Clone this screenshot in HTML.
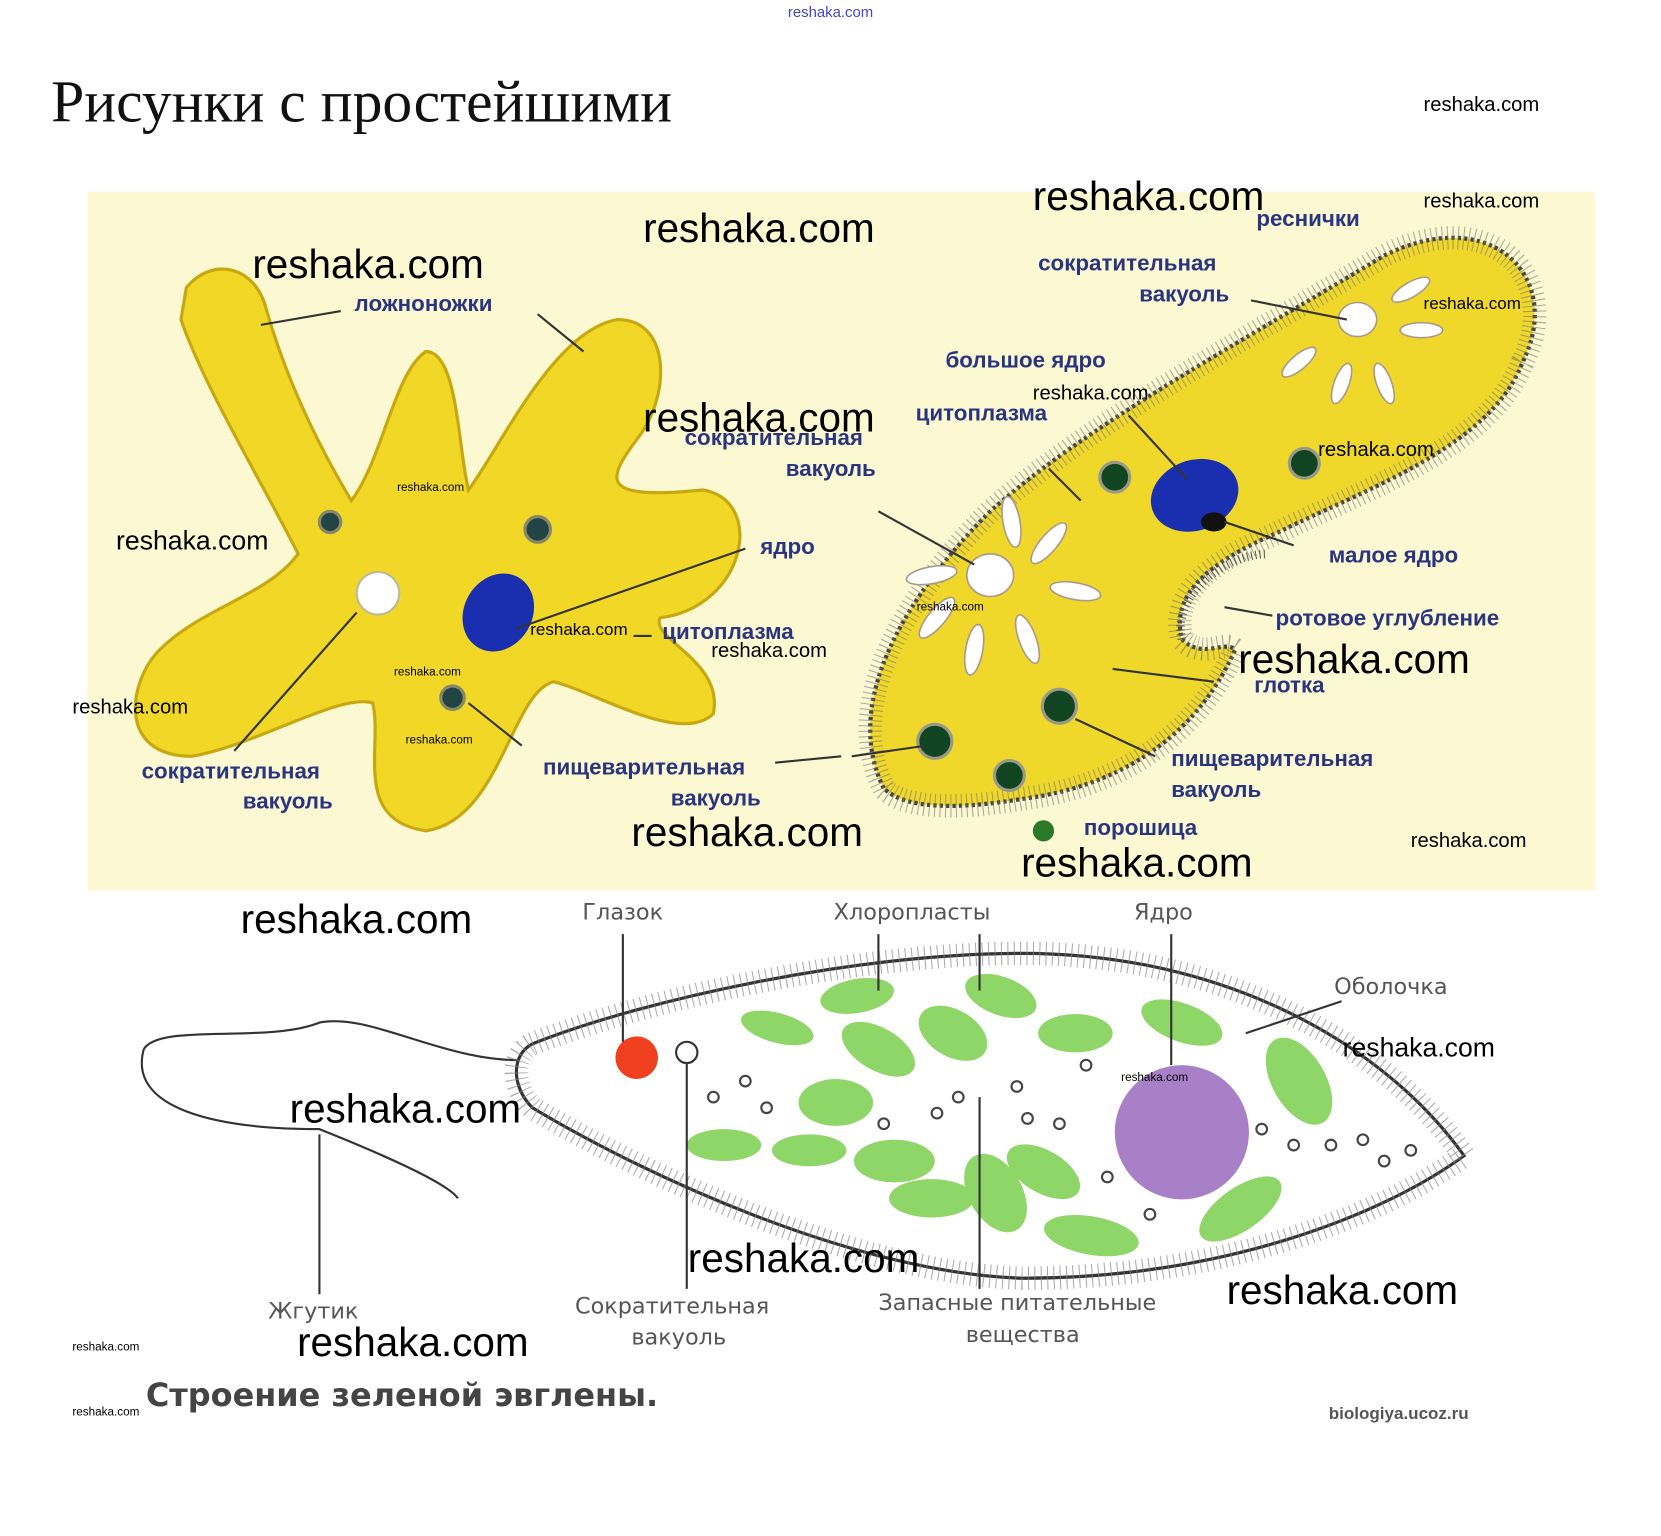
<!DOCTYPE html>
<html><head><meta charset="utf-8"><style>
html,body{margin:0;padding:0;background:#fff;}
svg{display:block;}
.w{font-family:"Liberation Sans",sans-serif;fill:#000;}
.lb{font-family:"Liberation Sans","DejaVu Sans",sans-serif;font-weight:bold;fill:#2a3580;font-size:21px;}
.eg{font-family:"DejaVu Sans","Liberation Sans",sans-serif;fill:#555;font-size:21px;}
</style></head><body>
<svg width="1661" height="1536" viewBox="0 0 1560 1442" preserveAspectRatio="none" xmlns="http://www.w3.org/2000/svg">
<rect width="1560" height="1442" fill="#fff"/>
<text x="740" y="16" font-size="14" fill="#4444cc" font-family="Liberation Sans">reshaka.com</text>
<text x="48" y="114" font-size="56" font-family="Liberation Serif" fill="#111">Рисунки с простейшими</text>

<rect x="82" y="180" width="1416" height="656" fill="#fbf8d2"/>

<path d="M175,270 C200,240 240,250 250,290 C270,360 300,420 330,470 C360,430 370,350 400,330 C430,330 430,420 440,460 C470,420 520,310 580,300 C630,300 630,370 600,410 C570,450 560,470 660,460 C720,470 700,570 620,580 C610,600 680,620 670,670 C640,700 560,650 520,640 C480,650 470,770 400,780 C330,770 360,700 350,660 C320,650 240,700 180,710 C110,710 120,640 150,610 C190,570 250,560 280,520 C250,460 190,360 170,300 Z" fill="#f2d826" stroke="#c8a810" stroke-width="3"/>
<circle cx="310" cy="490" r="10" fill="#244" stroke="#886" stroke-width="3"/>
<circle cx="505" cy="497" r="12" fill="#244" stroke="#886" stroke-width="3"/>
<circle cx="425" cy="655" r="11" fill="#244" stroke="#886" stroke-width="3"/>
<circle cx="355" cy="557" r="20" fill="#fff" stroke="#bb9" stroke-width="2"/>
<ellipse cx="468" cy="575" rx="32" ry="38" transform="rotate(30 468 575)" fill="#1a2fb0"/>
<g stroke="#333" stroke-width="2" fill="none">
<line x1="245" y1="305" x2="320" y2="292"/><line x1="505" y1="295" x2="548" y2="330"/>
<line x1="485" y1="590" x2="700" y2="515"/><line x1="595" y1="597" x2="612" y2="597"/>
<line x1="440" y1="660" x2="490" y2="700"/><line x1="335" y1="575" x2="220" y2="705"/>
<line x1="728" y1="716" x2="790" y2="710"/></g>
<text class="lb" x="333" y="292">ложноножки</text>
<text class="lb" x="714" y="520">ядро</text>
<text class="lb" x="622" y="600">цитоплазма</text>
<text class="lb" x="133" y="731">сократительная</text>
<text class="lb" x="228" y="759">вакуоль</text>
<text class="lb" x="510" y="727">пищеварительная</text>
<text class="lb" x="630" y="756">вакуоль</text>
<text class="lb" x="643" y="418">сократительная</text>
<text class="lb" x="738" y="447">вакуоль</text>

<path d="M830,740 C790,660 850,560 930,480 C1020,400 1150,330 1300,240 C1400,190 1470,260 1430,340 C1400,420 1280,460 1200,500 C1130,530 1100,560 1110,600 C1130,620 1150,600 1160,610 C1120,700 1040,740 960,750 C900,760 850,760 830,740 Z" fill="#f0d82a" stroke="#444" stroke-width="4" stroke-dasharray="3,3"/>
<path d="M830,740 C790,660 850,560 930,480 C1020,400 1150,330 1300,240 C1400,190 1470,260 1430,340 C1400,420 1280,460 1200,500 C1130,530 1100,560 1110,600 C1130,620 1150,600 1160,610 C1120,700 1040,740 960,750 C900,760 850,760 830,740 Z" fill="none" stroke="#777" stroke-width="22" stroke-dasharray="1,4" opacity="0.6"/>
<g fill="#fff" stroke="#a98" stroke-width="1.5">
<ellipse cx="1275" cy="300" rx="18" ry="16"/><ellipse cx="930" cy="540" rx="22" ry="20"/>
<ellipse cx="1325" cy="272" rx="20" ry="7" transform="rotate(-30 1325 272)"/>
<ellipse cx="1335" cy="310" rx="20" ry="7"/><ellipse cx="1300" cy="360" rx="20" ry="7" transform="rotate(70 1300 360)"/>
<ellipse cx="1260" cy="360" rx="20" ry="7" transform="rotate(110 1260 360)"/><ellipse cx="1220" cy="340" rx="20" ry="7" transform="rotate(140 1220 340)"/>
<ellipse cx="985" cy="510" rx="24" ry="8" transform="rotate(-50 985 510)"/><ellipse cx="1010" cy="555" rx="24" ry="8" transform="rotate(10 1010 555)"/>
<ellipse cx="965" cy="600" rx="24" ry="8" transform="rotate(70 965 600)"/><ellipse cx="915" cy="610" rx="24" ry="8" transform="rotate(100 915 610)"/>
<ellipse cx="880" cy="580" rx="24" ry="8" transform="rotate(130 880 580)"/><ellipse cx="875" cy="540" rx="24" ry="8" transform="rotate(170 875 540)"/>
<ellipse cx="950" cy="490" rx="24" ry="8" transform="rotate(-100 950 490)"/></g>
<ellipse cx="1122" cy="465" rx="42" ry="33" transform="rotate(-20 1122 465)" fill="#1a2fb0"/>
<ellipse cx="1140" cy="490" rx="12" ry="9" fill="#111"/>
<g fill="#114420" stroke="#998" stroke-width="3">
<circle cx="1047" cy="448" r="14"/><circle cx="1225" cy="435" r="14"/><circle cx="995" cy="663" r="16"/>
<circle cx="878" cy="696" r="16"/><circle cx="948" cy="728" r="14"/></g>
<path d="M1110,600 C1100,560 1150,520 1190,520" fill="none" stroke="#555" stroke-width="8" stroke-dasharray="1,3"/>
<g stroke="#333" stroke-width="2" fill="none">
<line x1="1175" y1="282" x2="1265" y2="300"/><line x1="1060" y1="390" x2="1115" y2="450"/>
<line x1="985" y1="440" x2="1015" y2="470"/><line x1="1150" y1="490" x2="1215" y2="512"/>
<line x1="1150" y1="570" x2="1195" y2="578"/><line x1="1045" y1="628" x2="1140" y2="640"/>
<line x1="1010" y1="675" x2="1085" y2="710"/><line x1="825" y1="480" x2="915" y2="530"/>
<line x1="800" y1="710" x2="870" y2="700"/></g>
<text class="lb" x="1180" y="212">реснички</text>
<text class="lb" x="975" y="254">сократительная</text>
<text class="lb" x="1070" y="283">вакуоль</text>
<text class="lb" x="888" y="345">большое ядро</text>
<text class="lb" x="860" y="395">цитоплазма</text>
<text class="lb" x="1248" y="528">малое ядро</text>
<text class="lb" x="1198" y="587">ротовое углубление</text>
<text class="lb" x="1178" y="650">глотка</text>
<text class="lb" x="1100" y="719">пищеварительная</text>
<text class="lb" x="1100" y="748">вакуоль</text>
<text class="lb" x="1018" y="784">порошица</text>
<circle cx="980" cy="780" r="10" fill="#2a7a2a"/>

<path d="M135,985 C150,960 250,980 300,960 C350,950 420,1000 500,995" fill="none" stroke="#333" stroke-width="2"/>
<path d="M135,985 C120,1040 200,1060 300,1060 C350,1080 420,1110 430,1125" fill="none" stroke="#333" stroke-width="2"/>
<path d="M500,980 C600,940 800,895 960,895 C1150,895 1300,980 1375,1085 C1300,1140 1150,1200 960,1200 C800,1195 600,1100 500,1040 C480,1020 480,990 500,980 Z" fill="#fff" stroke="#333" stroke-width="3"/>
<path d="M500,980 C600,940 800,895 960,895 C1150,895 1300,980 1375,1085 C1300,1140 1150,1200 960,1200 C800,1195 600,1100 500,1040 C480,1020 480,990 500,980 Z" fill="none" stroke="#888" stroke-width="22" stroke-dasharray="1,5" opacity="0.7"/>
<g fill="#8fd668">
<ellipse cx="805" cy="935" rx="35" ry="16" transform="rotate(-10 805 935)"/><ellipse cx="940" cy="935" rx="35" ry="18" transform="rotate(20 940 935)"/>
<ellipse cx="730" cy="965" rx="35" ry="14" transform="rotate(15 730 965)"/><ellipse cx="825" cy="985" rx="38" ry="20" transform="rotate(30 825 985)"/>
<ellipse cx="895" cy="970" rx="35" ry="22" transform="rotate(30 895 970)"/><ellipse cx="1010" cy="970" rx="35" ry="18"/>
<ellipse cx="1110" cy="960" rx="40" ry="18" transform="rotate(20 1110 960)"/><ellipse cx="785" cy="1035" rx="35" ry="22"/>
<ellipse cx="1220" cy="1015" rx="25" ry="45" transform="rotate(-30 1220 1015)"/><ellipse cx="680" cy="1075" rx="35" ry="15"/>
<ellipse cx="760" cy="1080" rx="35" ry="15"/><ellipse cx="840" cy="1090" rx="38" ry="20"/>
<ellipse cx="875" cy="1125" rx="40" ry="18"/><ellipse cx="935" cy="1120" rx="25" ry="40" transform="rotate(-30 935 1120)"/>
<ellipse cx="980" cy="1100" rx="38" ry="20" transform="rotate(30 980 1100)"/><ellipse cx="1025" cy="1160" rx="45" ry="18" transform="rotate(10 1025 1160)"/>
<ellipse cx="1165" cy="1135" rx="45" ry="20" transform="rotate(-35 1165 1135)"/></g>
<circle cx="1110" cy="1063" r="63" fill="#a880c8"/>
<circle cx="598" cy="993" r="20" fill="#f04020"/>
<circle cx="645" cy="988" r="10" fill="#fff" stroke="#333" stroke-width="2"/>
<g fill="none" stroke="#444" stroke-width="2">
<circle cx="670" cy="1030" r="5"/><circle cx="700" cy="1015" r="5"/><circle cx="720" cy="1040" r="5"/><circle cx="830" cy="1055" r="5"/>
<circle cx="880" cy="1045" r="5"/><circle cx="900" cy="1030" r="5"/><circle cx="955" cy="1020" r="5"/><circle cx="965" cy="1050" r="5"/>
<circle cx="995" cy="1055" r="5"/><circle cx="1020" cy="1000" r="5"/><circle cx="1040" cy="1105" r="5"/><circle cx="1185" cy="1060" r="5"/>
<circle cx="1215" cy="1075" r="5"/><circle cx="1250" cy="1075" r="5"/><circle cx="1280" cy="1070" r="5"/><circle cx="1300" cy="1090" r="5"/>
<circle cx="1325" cy="1080" r="5"/><circle cx="1080" cy="1140" r="5"/></g>
<g stroke="#333" stroke-width="2" fill="none">
<line x1="585" y1="877" x2="585" y2="978"/><line x1="825" y1="877" x2="825" y2="930"/><line x1="920" y1="877" x2="920" y2="930"/>
<line x1="1100" y1="877" x2="1100" y2="1000"/><line x1="1260" y1="940" x2="1170" y2="970"/>
<line x1="645" y1="998" x2="645" y2="1210"/><line x1="920" y1="1030" x2="920" y2="1210"/><line x1="300" y1="1065" x2="300" y2="1215"/></g>
<text class="eg" x="547" y="863">Глазок</text>
<text class="eg" x="783" y="863">Хлоропласты</text>
<text class="eg" x="1065" y="863">Ядро</text>
<text class="eg" x="1253" y="933">Оболочка</text>
<text class="eg" x="252" y="1238">Жгутик</text>
<text class="eg" x="540" y="1233">Сократительная</text>
<text class="eg" x="593" y="1262">вакуоль</text>
<text class="eg" x="825" y="1230">Запасные питательные</text>
<text class="eg" x="907" y="1260">вещества</text>
<text x="137" y="1320" font-size="30" font-weight="bold" fill="#444" font-family="DejaVu Sans">Строение зеленой эвглены.</text>
<text x="1248" y="1332" font-size="16" font-weight="bold" fill="#555" font-family="Liberation Sans">biologiya.ucoz.ru</text>

<g class="w">
<text x="1337" y="104" font-size="19">reshaka.com</text>
<text x="1337" y="195" font-size="19">reshaka.com</text>
<text x="970" y="197" font-size="38">reshaka.com</text>
<text x="604" y="227" font-size="38">reshaka.com</text>
<text x="237" y="261" font-size="38">reshaka.com</text>
<text x="1337" y="290" font-size="16">reshaka.com</text>
<text x="970" y="375" font-size="19">reshaka.com</text>
<text x="604" y="405" font-size="38">reshaka.com</text>
<text x="1238" y="428" font-size="19">reshaka.com</text>
<text x="373" y="461" font-size="11">reshaka.com</text>
<text x="109" y="516" font-size="25">reshaka.com</text>
<text x="861" y="573" font-size="11">reshaka.com</text>
<text x="498" y="596" font-size="16">reshaka.com</text>
<text x="668" y="617" font-size="19">reshaka.com</text>
<text x="1163" y="632" font-size="38">reshaka.com</text>
<text x="370" y="634" font-size="11">reshaka.com</text>
<text x="68" y="670" font-size="19">reshaka.com</text>
<text x="381" y="698" font-size="11">reshaka.com</text>
<text x="593" y="794" font-size="38">reshaka.com</text>
<text x="1325" y="795" font-size="19">reshaka.com</text>
<text x="959" y="823" font-size="38">reshaka.com</text>
<text x="226" y="876" font-size="38">reshaka.com</text>
<text x="1261" y="992" font-size="25">reshaka.com</text>
<text x="1053" y="1015" font-size="11">reshaka.com</text>
<text x="272" y="1054" font-size="38">reshaka.com</text>
<text x="646" y="1194" font-size="38">reshaka.com</text>
<text x="1152" y="1224" font-size="38">reshaka.com</text>
<text x="279" y="1273" font-size="38">reshaka.com</text>
<text x="68" y="1268" font-size="11">reshaka.com</text>
<text x="68" y="1329" font-size="11">reshaka.com</text>
</g>
</svg>
</body></html>
